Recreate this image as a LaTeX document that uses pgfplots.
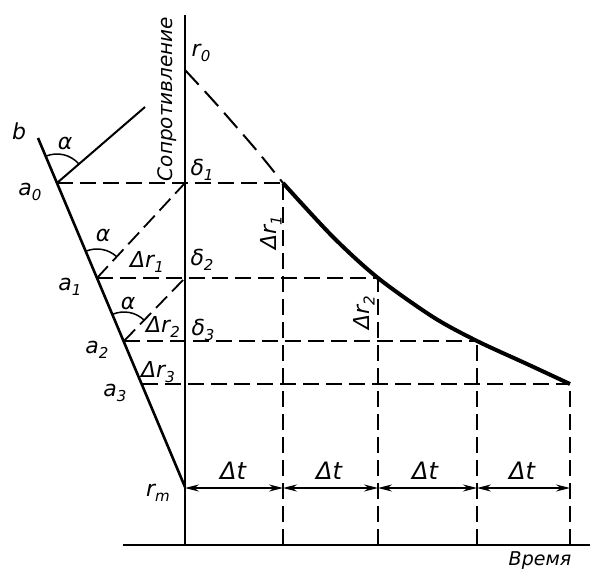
\documentclass[border=0pt]{standalone}
\usepackage{fontspec}
\setmainfont{DejaVu Sans}
\usepackage{pgfplots}
\pgfplotsset{compat=1.18}
\usetikzlibrary{arrows.meta}

% subscript in the text font
\newcommand\sub[1]{\raisebox{-0.45ex}{\fontsize{15}{15}\selectfont #1}}

\tikzset{
    lbl/.style={font=\fontsize{22}{24}\selectfont\itshape, inner sep=0pt},
}

\begin{document}
\begin{tikzpicture}
\begin{axis}[
    x=1pt, y=1pt,
    xmin=-185, xmax=408, ymin=-25, ymax=545,
    hide axis, clip=false,
    dsh/.style={black, line width=1.8pt, dash pattern=on 16pt off 7pt},
    dt/.style={black, line width=1.3pt, {Stealth[length=14pt,width=7pt]}-{Stealth[length=14pt,width=7pt]}},
]
\path (axis cs:-185,-25) rectangle (axis cs:408,545);

% axes
\addplot[black, line width=2.6pt] coordinates {(0,0) (0,530)};
\addplot[black, line width=2.6pt] coordinates {(-62,0) (405,0)};

% resistance curve: dashed start, then solid
\addplot[black, line width=2pt, dash pattern=on 20pt off 9pt, smooth] coordinates {
    (0,475) (25,448) (48,422) (73,393) (98,362)};
\addplot[black, line width=4pt, smooth] coordinates {
    (98,362) (148,308) (193,267) (248,228) (292,204) (342,181) (385,161)};

% horizontal construction lines
\addplot[dsh] coordinates {(-128,362) (98,362)};
\addplot[dsh] coordinates {(-88,267) (193,267)};
\addplot[dsh] coordinates {(-61,204) (292,204)};
\addplot[dsh] coordinates {(-43,161) (385,161)};

% vertical construction lines
\addplot[dsh] coordinates {(98,0) (98,362)};
\addplot[dsh] coordinates {(193,0) (193,267)};
\addplot[dsh] coordinates {(292,0) (292,204)};
\addplot[dsh] coordinates {(385,0) (385,161)};

% line b and rays
\addplot[black, line width=2.6pt] coordinates {(0,58) (-147,407)};
\addplot[black, line width=2pt] coordinates {(-128,362) (-40,438)};
\addplot[dsh] coordinates {(-88,267) (0,362)};
\addplot[dsh] coordinates {(-61,204) (0,267)};

% angle arcs
\draw[line width=1.5pt] (axis cs:-128,362) ++(112.8:29pt) arc[start angle=112.8, end angle=40.8, radius=29pt];
\draw[line width=1.5pt] (axis cs:-88,267) ++(112.8:29pt) arc[start angle=112.8, end angle=47.2, radius=29pt];
\draw[line width=1.5pt] (axis cs:-61,204) ++(112.8:29pt) arc[start angle=112.8, end angle=45.9, radius=29pt];

% time steps
\addplot[dt] coordinates {(0,57) (98,57)};
\addplot[dt] coordinates {(98,57) (193,57)};
\addplot[dt] coordinates {(193,57) (292,57)};
\addplot[dt] coordinates {(292,57) (385,57)};
\node[lbl, font=\fontsize{24}{26}\selectfont\itshape] at (axis cs:48,74) {Δt};
\node[lbl, font=\fontsize{24}{26}\selectfont\itshape] at (axis cs:144,74) {Δt};
\node[lbl, font=\fontsize{24}{26}\selectfont\itshape] at (axis cs:240,74) {Δt};
\node[lbl, font=\fontsize{24}{26}\selectfont\itshape] at (axis cs:337,74) {Δt};

% labels
\node[lbl, rotate=90, font=\fontsize{20}{22}\selectfont\itshape] at (axis cs:-18,446) {Сопротивление};
\node[lbl, font=\fontsize{19}{21}\selectfont\itshape] at (axis cs:355,-16) {Время};
\node[lbl] at (axis cs:16,492) {r\sub{0}};
\node[lbl] at (axis cs:17,375) {δ\sub{1}};
\node[lbl] at (axis cs:17,285) {δ\sub{2}};
\node[lbl] at (axis cs:18,215) {δ\sub{3}};
\node[lbl, rotate=90] at (axis cs:86,312) {Δr\sub{1}};
\node[lbl, rotate=90] at (axis cs:179,232) {Δr\sub{2}};
\node[lbl] at (axis cs:-38,283) {Δr\sub{1}};
\node[lbl] at (axis cs:-22,218) {Δr\sub{2}};
\node[lbl] at (axis cs:-27,173) {Δr\sub{3}};
\node[lbl] at (axis cs:-120,402) {α};
\node[lbl] at (axis cs:-82,310) {α};
\node[lbl] at (axis cs:-57,242) {α};
\node[lbl] at (axis cs:-166,414) {b};
\node[lbl] at (axis cs:-155,353) {a\sub{0}};
\node[lbl] at (axis cs:-115,258) {a\sub{1}};
\node[lbl] at (axis cs:-88,195) {a\sub{2}};
\node[lbl] at (axis cs:-70,152) {a\sub{3}};
\node[lbl] at (axis cs:-27,52) {r\sub{m}};
\end{axis}
\end{tikzpicture}
\end{document}
